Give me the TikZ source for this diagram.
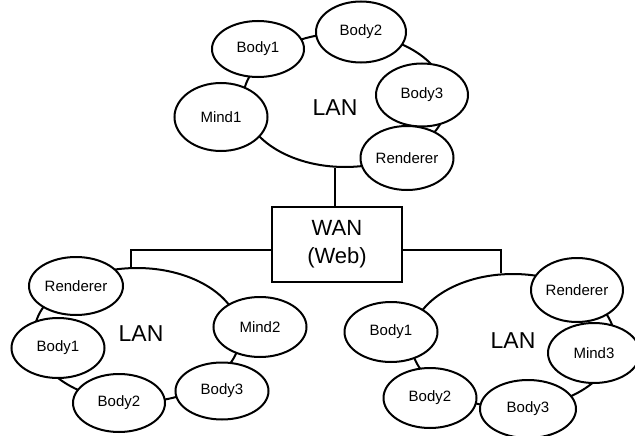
\documentclass[tikz,border=0pt]{standalone}
\usepackage{fontspec}
\setmainfont{Liberation Sans}
\usetikzlibrary{shapes.geometric,calc}
\begin{document}
\begin{tikzpicture}[x=1pt,y=-1pt,
  ring/.style={draw, ellipse, line width=2pt, inner sep=0pt},
  member/.style={draw, ellipse, fill=white, line width=2pt, inner sep=0pt,
    minimum width=92pt, minimum height=60pt, font=\fontsize{15}{18}\selectfont},
  lanlabel/.style={font=\fontsize{23}{27}\selectfont, inner sep=0pt},
  wanbox/.style={draw, rectangle, line width=2.5pt, minimum width=130pt,
    minimum height=75pt, align=center, font=\fontsize{22}{28}\selectfont, inner sep=0pt},
  link/.style={line width=2pt}]
\useasboundingbox (0,0) rectangle (635,436);

% rings
\node[ring, minimum width=204pt, minimum height=134pt] (ringT) at (345,100) {};
\node[ring, minimum width=206pt, minimum height=134pt] (ringL) at (137,335) {};
\node[ring, minimum width=204pt, minimum height=134pt] (ringR) at (513,341) {};

% WAN box
\node[wanbox] (wan) at (337,244.5) {WAN\\(Web)};

% connectors
\draw[link] (ringT.262) -- (ringT.262 |- wan.north);
\draw[link] (wan.185) -| (ringL.95);
\draw[link] (wan.355) -| (ringR.100);

% LAN labels
\node[lanlabel] (lanT) at (335,108) {LAN};
\node[lanlabel] (lanL) at (141,334) {LAN};
\node[lanlabel] (lanR) at (513,341) {LAN};

% top LAN members
\node[member, minimum height=56pt] (tb1) at (258,49) {Body1};
\node[member, minimum width=90pt, minimum height=61pt] (tb2) at (361,32) {Body2};
\node[member, minimum height=63pt] (tb3) at (422,95) {Body3};
\node[member, minimum width=93pt, minimum height=68pt] (tm1) at (221,117) {Mind1};
\node[member, minimum width=93pt, minimum height=64pt] (tr) at (407,158) {Renderer};

% left LAN members
\node[member, minimum width=94pt, minimum height=58pt] (lr) at (76,286) {Renderer};
\node[member, minimum width=93pt] (lb1) at (58,348) {Body1};
\node[member, minimum height=58pt] (lb2) at (119,403) {Body2};
\node[member, minimum width=93pt, minimum height=57pt] (lb3) at (222,391) {Body3};
\node[member, minimum width=93pt] (lm2) at (260,327) {Mind2};

% right LAN members
\node[member, minimum height=64pt] (rr) at (577,290) {Renderer};
\node[member] (rm3) at (594,353) {Mind3};
\node[member, minimum width=93pt] (rb1) at (391,332) {Body1};
\node[member, minimum width=93pt] (rb2) at (430,398) {Body2};
\node[member, minimum width=96pt, minimum height=58pt] (rb3) at (528,409) {Body3};
\end{tikzpicture}
\end{document}
